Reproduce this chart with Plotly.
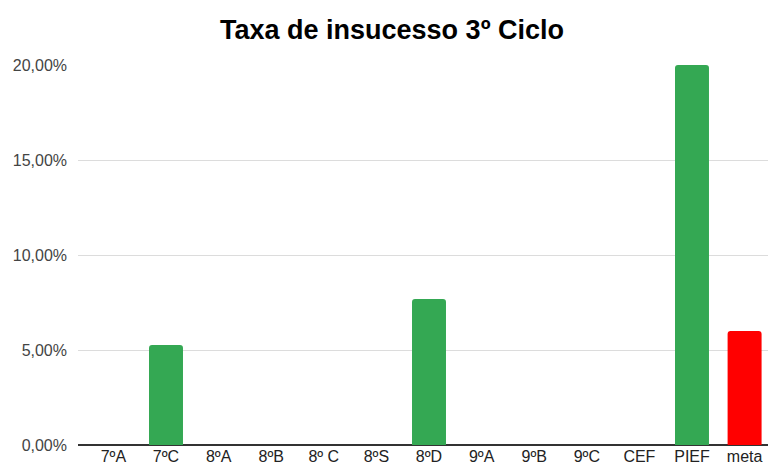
import plotly.graph_objects as go

categories = ["7ºA", "7ºC", "8ºA", "8ºB", "8º C", "8ºS", "8ºD", "9ºA", "9ºB", "9ºC", "CEF", "PIEF", "meta"]
values = [0.0, 0.0526, 0.0, 0.0, 0.0, 0.0, 0.0769, 0.0, 0.0, 0.0, 0.0, 0.20, 0.06]
bar_colors = ["#34A853"] * 12 + ["#FF0000"]

fig = go.Figure(go.Bar(
    x=categories, y=values,
    marker=dict(color=bar_colors, line=dict(width=0), cornerradius=3),
    hoverinfo="x+y",
))

fig.update_layout(
    width=769, height=469,
    margin=dict(l=78, r=1, t=65, b=24),
    paper_bgcolor="white", plot_bgcolor="white",
    separators=",.",
    bargap=0.354,
    showlegend=False,
    title=dict(text="<b>Taxa de insucesso 3º Ciclo</b>", x=392/769, xanchor="center",
               y=1 - 30/469, yanchor="middle",
               font=dict(family="Arial, Liberation Sans", size=27, color="#000")),
    font=dict(family="Arial, Liberation Sans", size=16, color="#444"),
)
fig.update_xaxes(type="category", range=[-0.673, 12.445], showgrid=False,
                 showline=False, ticks="", tickfont=dict(size=16, color="#222"))
fig.update_yaxes(range=[0, 0.2], tickformat=".2%", dtick=0.05, showgrid=True,
                 gridcolor="#dcdcdc", zeroline=True, zerolinecolor="#333",
                 zerolinewidth=1.5, ticks="", ticklabelstandoff=10,
                 tickfont=dict(size=16, color="#444"))

fig.write_html("out.html", config={"displayModeBar": False},
               post_script="document.body.style.margin='0';")
